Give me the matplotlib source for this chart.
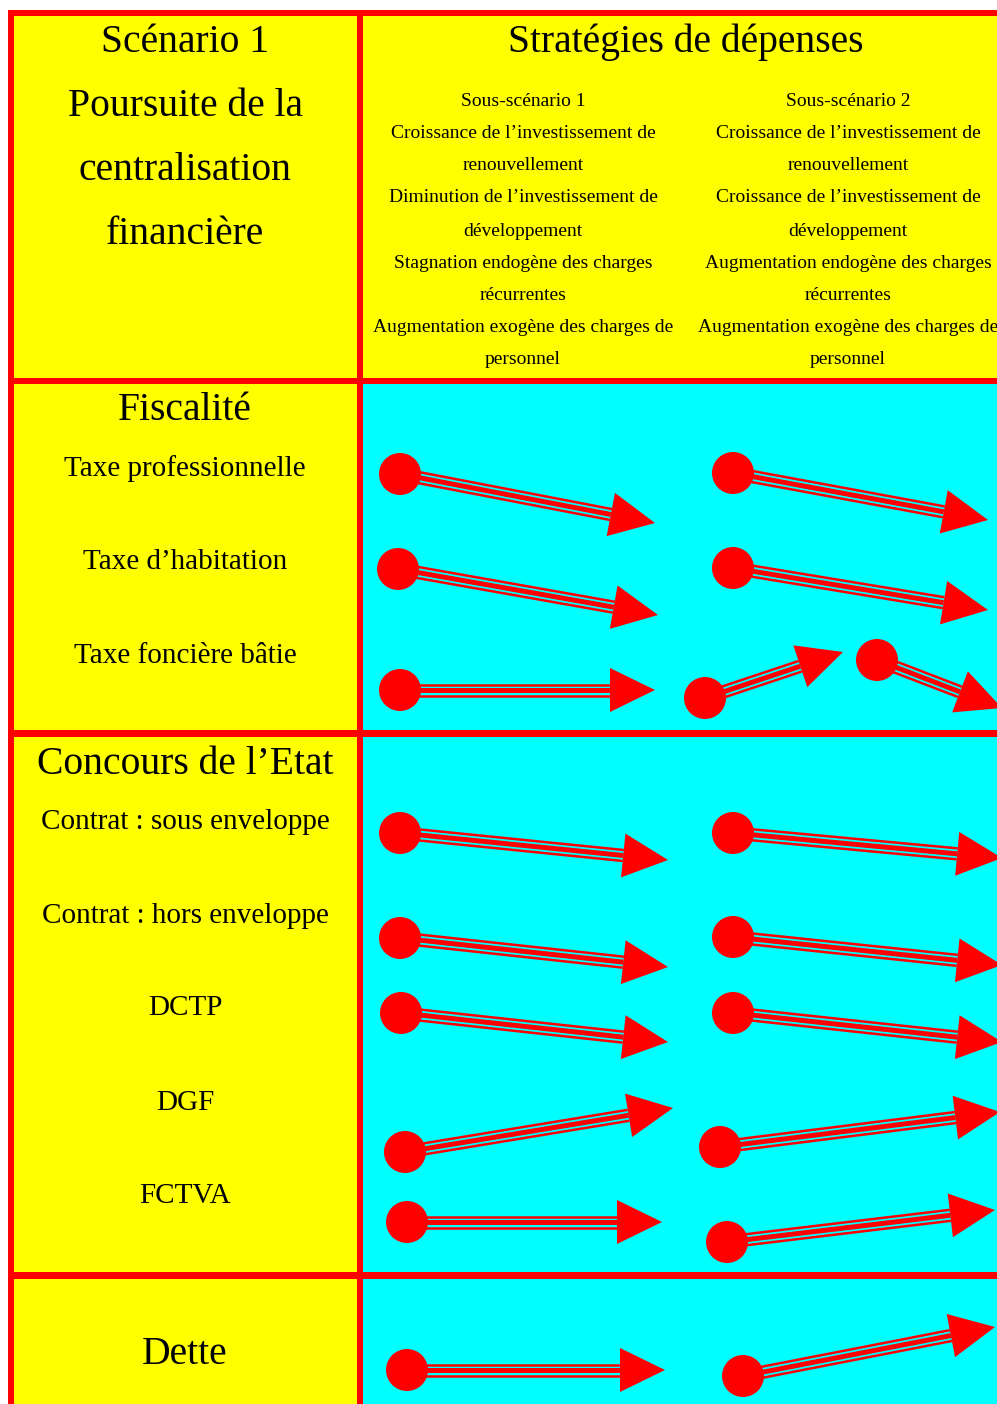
import numpy as np
import matplotlib.pyplot as plt
from matplotlib.patches import Rectangle, Circle, Polygon

plt.rcParams['font.family'] = ['Liberation Serif', 'DejaVu Serif']

W, H = 997, 1404
RED = '#ff0000'
YELLOW = '#ffff00'
CYAN = '#00ffff'

# header texts
scenario_lines = ['Scénario 1', 'Poursuite de la', 'centralisation', 'financière']
strategy_title = 'Stratégies de dépenses'
sub1_lines = ['Sous-scénario 1',
              'Croissance de l\u2019investissement de', 'renouvellement',
              'Diminution de l\u2019investissement de', 'développement',
              'Stagnation endogène des charges', 'récurrentes',
              'Augmentation exogène des charges de', 'personnel']
sub2_lines = ['Sous-scénario 2',
              'Croissance de l\u2019investissement de', 'renouvellement',
              'Croissance de l\u2019investissement de', 'développement',
              'Augmentation endogène des charges', 'récurrentes',
              'Augmentation exogène des charges de', 'personnel']

# row sections and their item labels (label, y centre)
section_titles = ['Fiscalité', 'Concours de l\u2019Etat', 'Dette']
section_title_y = [407, 760, 1350]
item_labels = ['Taxe professionnelle', 'Taxe d\u2019habitation', 'Taxe foncière bâtie',
               'Contrat : sous enveloppe', 'Contrat : hors enveloppe',
               'DCTP', 'DGF', 'FCTVA']
item_y = [466, 559, 653, 819, 913, 1005, 1100, 1193]

# arrows: start point (circle) and tip
arrow_x0 = [400, 733, 398, 733, 400, 705, 877,
            400, 733, 400, 733, 401, 733, 405, 720, 407, 727,
            407, 743]
arrow_y0 = [474, 473, 569, 568, 690, 698, 660,
            833, 833, 938, 937, 1013, 1013, 1152, 1147, 1222, 1242,
            1370, 1376]
arrow_x1 = [655, 988, 658, 988, 655, 843, 1002,
            668, 1002, 668, 1002, 668, 1002, 673, 1000, 662, 995,
            665, 995]
arrow_y1 = [523, 520, 615, 610, 690, 652, 708,
            860, 858, 967, 965, 1042, 1042, 1108, 1112, 1222, 1210,
            1370, 1327]

# table grid (pixels)
col_left = (14, 357)
col_right = (363, 997)
rows = [(16, 378), (384, 730), (737, 1272), (1279, 1404)]

fig = plt.figure(figsize=(W / 100, H / 100), dpi=100)
ax = fig.add_axes([0, 0, 1, 1])
ax.set_xlim(0, W)
ax.set_ylim(H, 0)
ax.axis('off')

ax.add_patch(Rectangle((8, 10), W - 8, H - 10, facecolor=RED, edgecolor='none'))
for i, (r0, r1) in enumerate(rows):
    ax.add_patch(Rectangle((col_left[0], r0), col_left[1] - col_left[0], r1 - r0,
                           facecolor=YELLOW, edgecolor='none'))
    ax.add_patch(Rectangle((col_right[0], r0), col_right[1] - col_right[0], r1 - r0,
                           facecolor=YELLOW if i == 0 else CYAN, edgecolor='none'))

# header text (small downward nudge: va='center' includes descenders)
for txt, y in zip(scenario_lines, [38, 102, 167, 231]):
    ax.text(185, y + 4, txt, fontsize=28.5, ha='center', va='center')
ax.text(686, 42, strategy_title, fontsize=28.5, ha='center', va='center')
sub_y = [99, 131, 163, 196, 229, 262, 294, 326, 358]
for lines, cx in [(sub1_lines, 523), (sub2_lines, 848)]:
    for txt, y in zip(lines, sub_y):
        ax.text(cx, y + 2, txt, fontsize=14, ha='center', va='center')

for txt, y in zip(section_titles, section_title_y):
    ax.text(185, y + 4, txt, fontsize=28.5, ha='center', va='center')
for txt, y in zip(item_labels, item_y):
    ax.text(185, y + 3, txt, fontsize=21, ha='center', va='center')

# arrows
head_len, head_half = 45, 22
for x0, y0, x1, y1 in zip(arrow_x0, arrow_y0, arrow_x1, arrow_y1):
    d = np.array([x1 - x0, y1 - y0], dtype=float)
    u = d / np.hypot(*d)
    n = np.array([-u[1], u[0]])
    base = np.array([x1, y1]) - u * head_len
    for off, lw in [(-5.5, 1.8), (0, 3.6), (5.5, 1.8)]:
        p0 = np.array([x0, y0]) + n * off
        p1 = base + n * off
        ax.plot([p0[0], p1[0]], [p0[1], p1[1]], color=RED, lw=lw,
                solid_capstyle='butt', zorder=3)
    ax.add_patch(Polygon([[x1, y1], base + n * head_half, base - n * head_half],
                         closed=True, facecolor=RED, edgecolor='none', zorder=4))
    ax.add_patch(Circle((x0, y0), 21, facecolor=RED, edgecolor='none', zorder=5))

fig.savefig('out.png', dpi=100)
